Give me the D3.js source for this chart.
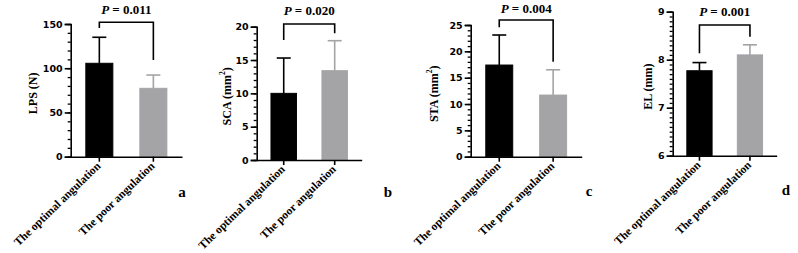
<!DOCTYPE html>
<html>
<head>
<meta charset="utf-8">
<script src="https://cdn.jsdelivr.net/npm/d3@7"></script>
<style>
  body { margin: 0; background: #fff; }
  .tick text { font-family: "DejaVu Sans", sans-serif; font-weight: bold; }
</style>
</head>
<body>
<div id="chart"></div>
<script>
// groups shared by all four panels
var groups = ["The optimal angulation", "The poor angulation"];

// mean and SD per panel
var lpsMean = [105.6, 77.3];
var lpsSd = [29.4, 15.0];
var scaMean = [10.0, 13.4];
var scaSd = [5.3, 4.5];
var staMean = [17.4, 11.7];
var staSd = [5.7, 4.8];
var elMean = [7.77, 8.10];
var elSd = [0.17, 0.21];

var pValues = ["0.011", "0.020", "0.004", "0.001"];
var panelLetters = ["a", "b", "c", "d"];
var yLabels = [["LPS (N)", null], ["SCA (mm", "2"], ["STA (mm", "2"], ["EL (mm)", null]];

// tick values
var lpsTicks = [0, 50, 100, 150];
var scaTicks = [0, 5, 10, 15, 20];
var staTicks = [0, 5, 10, 15, 20, 25];
var elTicks = [6, 7, 8, 9];

var width = 798, height = 253;
var colors = ["#000000", "#a4a4a7"];
var serif = "'Liberation Serif', 'Times New Roman', Times, serif";

// layout of each panel (pixels)
var panels = [
  { mean: lpsMean, sd: lpsSd, ticks: lpsTicks, minor: 10, x0: 70.7, x1: 182, y0: 156.7, y1: 24,
    labelDx: 38, bracketTop: 22.3, legs: [28, 60], pY: 14, letter: [182, 197] },
  { mean: scaMean, sd: scaSd, ticks: scaTicks, minor: 1, x0: 256.7, x1: 361.7, y0: 160, y1: 26.7,
    labelDx: 30, bracketTop: 24, legs: [40, 33.3], pY: 15, letter: [388, 197] },
  { mean: staMean, sd: staSd, ticks: staTicks, minor: 1, x0: 470.7, x1: 581.7, y0: 156.7, y1: 25,
    labelDx: 37, bracketTop: 20, legs: [27.3, 61.7], pY: 13, letter: [589, 196] },
  { mean: elMean, sd: elSd, ticks: elTicks, minor: 0.1, x0: 672.7, x1: 776.7, y0: 155.7, y1: 11.7,
    labelDx: 25, bracketTop: 25, legs: [53.3, 36.7], pY: 16, letter: [786, 195] }
];

var svg = d3.select("#chart").append("svg")
  .attr("width", width)
  .attr("height", height);

panels.forEach(function(p, k) {
  var lo = p.ticks[0], hi = p.ticks[p.ticks.length - 1];
  var y = d3.scaleLinear().domain([lo, hi]).range([p.y0, p.y1]);
  var x = d3.scaleBand().domain(groups).range([p.x0, p.x1])
    .paddingInner(0.5).paddingOuter(0.28);

  var g = svg.append("g");

  // bars
  g.selectAll("rect.bar")
    .data(groups)
    .enter().append("rect")
    .attr("class", "bar")
    .attr("x", d => x(d))
    .attr("width", x.bandwidth())
    .attr("y", (d, i) => y(p.mean[i]))
    .attr("height", (d, i) => y(lo) - y(p.mean[i]))
    .attr("fill", (d, i) => colors[i])
    .attr("stroke", (d, i) => colors[i])
    .attr("stroke-width", 1);

  // error bars (upper only)
  groups.forEach(function(d, i) {
    var cx = x(d) + x.bandwidth() / 2;
    var top = y(p.mean[i] + p.sd[i]);
    g.append("line")
      .attr("x1", cx).attr("x2", cx)
      .attr("y1", y(p.mean[i])).attr("y2", top)
      .attr("stroke", colors[i]).attr("stroke-width", 1.6);
    g.append("line")
      .attr("x1", cx - 7).attr("x2", cx + 7)
      .attr("y1", top).attr("y2", top)
      .attr("stroke", colors[i]).attr("stroke-width", 1.6);
  });

  // minor ticks
  var minorVals = d3.range(lo, hi + p.minor / 2, p.minor);
  var minorAxis = g.append("g")
    .attr("transform", "translate(" + p.x0 + ",0)")
    .call(d3.axisLeft(y).tickValues(minorVals).tickSize(3).tickFormat(""));
  minorAxis.select(".domain").remove();
  minorAxis.selectAll("line").attr("stroke-width", 1.3);

  // major ticks
  var yAxis = g.append("g")
    .attr("transform", "translate(" + p.x0 + ",0)")
    .call(d3.axisLeft(y).tickValues(p.ticks).tickSize(6).tickPadding(2).tickFormat(d3.format("d")));
  yAxis.select(".domain").attr("stroke-width", 1.6);
  yAxis.selectAll("line").attr("stroke-width", 1.6);
  yAxis.selectAll("text").attr("font-size", 9.5).attr("fill", "#000");

  // x axis
  var xAxis = g.append("g")
    .attr("transform", "translate(0," + p.y0 + ")")
    .call(d3.axisBottom(x).tickSize(5).tickSizeOuter(0).tickFormat(""));
  xAxis.select(".domain").attr("stroke-width", 1.6);
  xAxis.selectAll("line").attr("stroke-width", 1.6);

  // rotated group labels
  g.selectAll("text.xl")
    .data(groups)
    .enter().append("text")
    .attr("class", "xl")
    .attr("transform", d => "translate(" + (x(d) + x.bandwidth() / 2 + 2) + "," + (p.y0 + 10) + ") rotate(-44)")
    .attr("text-anchor", "end")
    .attr("font-family", serif)
    .attr("font-weight", "bold")
    .attr("font-size", 11.5)
    .text(d => d);

  // y label
  var yl = g.append("text")
    .attr("transform", "translate(" + (p.x0 - p.labelDx) + "," + ((p.y0 + p.y1) / 2 + 3) + ") rotate(-90)")
    .attr("text-anchor", "middle")
    .attr("dominant-baseline", "central")
    .attr("font-family", serif)
    .attr("font-weight", "bold")
    .attr("font-size", 12);
  yl.append("tspan").text(yLabels[k][0]);
  if (yLabels[k][1]) {
    yl.append("tspan").attr("font-size", 7.5).attr("dy", -5).text(yLabels[k][1]);
    yl.append("tspan").attr("dy", 5).text(")");
  }

  // significance bracket
  var bx = groups.map(d => x(d) + x.bandwidth() / 2);
  g.append("path")
    .attr("d", "M" + bx[0] + "," + p.legs[0] + "V" + p.bracketTop + "H" + bx[1] + "V" + p.legs[1])
    .attr("fill", "none")
    .attr("stroke", "#000")
    .attr("stroke-width", 1.6);

  var pt = g.append("text")
    .attr("x", (bx[0] + bx[1]) / 2)
    .attr("y", p.pY)
    .attr("text-anchor", "middle")
    .attr("font-family", serif)
    .attr("font-weight", "bold")
    .attr("font-size", 13);
  pt.append("tspan").attr("font-style", "italic").text("P");
  pt.append("tspan").text(" = " + pValues[k]);

  // panel letter
  g.append("text")
    .attr("x", p.letter[0])
    .attr("y", p.letter[1])
    .attr("text-anchor", "middle")
    .attr("font-family", serif)
    .attr("font-weight", "bold")
    .attr("font-size", 15)
    .text(panelLetters[k]);
});
</script>
</body>
</html>
